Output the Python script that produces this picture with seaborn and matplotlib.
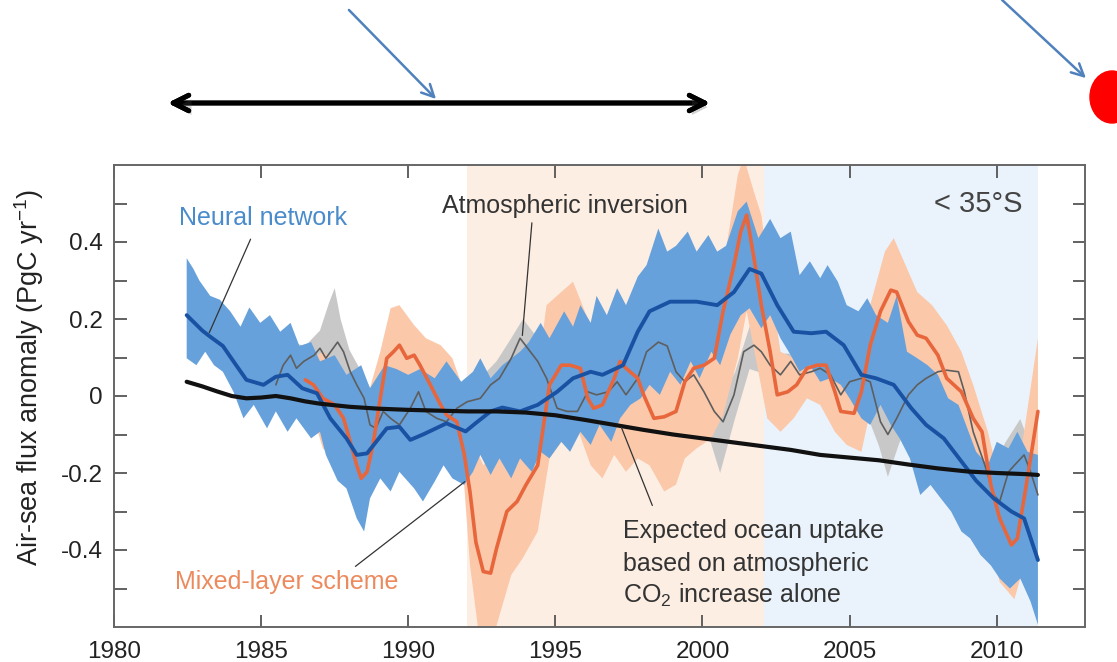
import numpy as np
import seaborn as sns
import matplotlib.pyplot as plt
import matplotlib.patheffects as pe
from matplotlib.patches import Ellipse

# neural network estimate (mean line and spread)
nn_years = [1982.47, 1983.0, 1983.27, 1983.7, 1984.06, 1984.5, 1985.08, 1985.5, 1985.9, 1986.4,
            1986.9, 1987.35, 1987.9, 1988.25, 1988.6, 1989.27, 1989.7, 1990.07, 1990.5, 1991.3,
            1991.95, 1992.3, 1992.8, 1993.2, 1993.8, 1994.4, 1995.06, 1995.6, 1996.2, 1996.6,
            1997.3, 1997.8, 1998.2, 1998.9, 1999.8, 2000.5, 2001.07, 2001.6, 2002.0, 2002.54,
            2003.1, 2003.7, 2004.2, 2004.8, 2005.4, 2005.9, 2006.5, 2007.1, 2007.6, 2008.2,
            2008.8, 2009.3, 2009.9, 2010.5, 2010.93, 2011.4]
nn_mean = [0.21, 0.17, 0.154, 0.13, 0.09, 0.042, 0.029, 0.05, 0.055, 0.02,
           0.007, -0.058, -0.11, -0.153, -0.149, -0.084, -0.08, -0.114, -0.10, -0.071,
           -0.092, -0.07, -0.04, -0.03, -0.04, -0.023, 0.011, 0.046, 0.063, 0.055,
           0.08, 0.167, 0.22, 0.245, 0.245, 0.236, 0.27, 0.33, 0.318, 0.236,
           0.167, 0.163, 0.167, 0.132, 0.055, 0.046, 0.029, -0.032, -0.075, -0.11,
           -0.17, -0.22, -0.266, -0.30, -0.318, -0.426]

nn_up_years = [1982.47, 1982.7, 1982.9, 1983.27, 1983.6, 1983.95, 1984.3, 1984.6, 1984.97, 1985.3,
               1985.65, 1986.0, 1986.3, 1986.7, 1987.0, 1987.5, 1987.9, 1988.4, 1988.7, 1989.2,
               1989.6, 1990.0, 1990.4, 1990.9, 1991.3, 1991.8, 1992.2, 1992.45, 1992.8, 1993.2,
               1993.8, 1994.1, 1994.5, 1994.8, 1995.3, 1995.6, 1995.85, 1996.2, 1996.4, 1996.75,
               1997.1, 1997.4, 1997.8, 1998.1, 1998.5, 1998.8, 1999.1, 1999.5, 1999.8, 2000.2,
               2000.5, 2000.8, 2001.2, 2001.5, 2001.9, 2002.3, 2002.65, 2003.0, 2003.3, 2003.65,
               2004.0, 2004.25, 2004.6, 2004.9, 2005.3, 2005.6, 2005.9, 2006.3, 2006.6, 2006.95,
               2007.3, 2007.65, 2008.0, 2008.35, 2008.7, 2009.0, 2009.3, 2009.7, 2010.0, 2010.4,
               2010.7, 2011.05, 2011.4]
nn_upper = [0.358, 0.33, 0.30, 0.26, 0.25, 0.22, 0.18, 0.23, 0.19, 0.21,
            0.167, 0.19, 0.13, 0.14, 0.09, 0.106, 0.055, 0.08, 0.02, 0.08,
            0.07, 0.055, 0.07, 0.046, 0.09, 0.037, 0.063, 0.098, 0.046, 0.08,
            0.115, 0.14, 0.19, 0.15, 0.22, 0.18, 0.236, 0.19, 0.26, 0.21,
            0.28, 0.236, 0.31, 0.34, 0.435, 0.375, 0.39, 0.427, 0.375, 0.418,
            0.375, 0.39, 0.48, 0.505, 0.41, 0.46, 0.41, 0.427, 0.314, 0.35,
            0.306, 0.34, 0.297, 0.236, 0.22, 0.254, 0.21, 0.19, 0.26, 0.115,
            0.098, 0.08, 0.055, -0.006, -0.023, -0.084, -0.145, -0.18, -0.119, -0.136,
            -0.093, -0.145, -0.153]

nn_lo_years = [1982.47, 1982.8, 1983.1, 1983.4, 1983.7, 1984.06, 1984.4, 1984.75, 1985.2, 1985.5,
               1985.9, 1986.2, 1986.7, 1987.0, 1987.2, 1987.6, 1987.9, 1988.25, 1988.5, 1988.7,
               1989.05, 1989.4, 1989.7, 1990.2, 1990.5, 1990.9, 1991.2, 1991.5, 1991.9, 1992.2,
               1992.45, 1992.8, 1993.1, 1993.5, 1993.8, 1994.2, 1994.5, 1994.8, 1995.2, 1995.5,
               1995.85, 1996.2, 1996.5, 1996.9, 1997.2, 1997.55, 1997.9, 1998.2, 1998.55, 1998.9,
               1999.25, 1999.6, 1999.9, 2000.3, 2000.6, 2000.95, 2001.3, 2001.6, 2002.0, 2002.3,
               2002.65, 2003.0, 2003.3, 2003.65, 2004.0, 2004.35, 2004.7, 2005.0, 2005.4, 2005.7,
               2006.05, 2006.4, 2006.7, 2007.05, 2007.4, 2007.75, 2008.1, 2008.45, 2008.8, 2009.1,
               2009.45, 2009.8, 2010.1, 2010.45, 2010.8, 2011.15, 2011.4]
nn_lower = [0.098, 0.08, 0.115, 0.08, 0.063, 0.011, -0.058, -0.023, -0.084, -0.04,
            -0.093, -0.058, -0.11, -0.093, -0.153, -0.22, -0.24, -0.318, -0.352, -0.266,
            -0.214, -0.248, -0.197, -0.24, -0.274, -0.222, -0.18, -0.214, -0.231, -0.197,
            -0.153, -0.205, -0.162, -0.214, -0.162, -0.197, -0.145, -0.162, -0.119, -0.145,
            -0.093, -0.127, -0.075, -0.119, -0.058, -0.023, -0.006, 0.029, 0.003, 0.063,
            0.029, 0.09, 0.046, 0.115, 0.08, 0.16, 0.21, 0.228, 0.176, 0.21,
            0.15, 0.106, 0.063, 0.08, 0.037, 0.046, 0.029, -0.006, -0.058, -0.075,
            -0.023, -0.075, -0.11, -0.162, -0.257, -0.231, -0.266, -0.30, -0.352, -0.37,
            -0.413, -0.44, -0.474, -0.50, -0.474, -0.534, -0.594]

# mixed-layer scheme
ml_years = [1986.5, 1986.78, 1987.1, 1987.5, 1987.8, 1988.03, 1988.25, 1988.4, 1988.6, 1988.8,
            1989.05, 1989.27, 1989.5, 1989.7, 1989.95, 1990.2, 1990.4, 1990.75, 1991.1, 1991.3,
            1991.65, 1991.9, 1992.1, 1992.3, 1992.55, 1992.8, 1993.0, 1993.35, 1993.7, 1994.0,
            1994.4, 1994.6, 1994.8, 1995.2, 1995.5, 1995.85, 1996.1, 1996.3, 1996.6, 1997.0,
            1997.2, 1997.4, 1997.8, 1998.0, 1998.35, 1998.7, 1999.1, 1999.4, 1999.7, 2000.05,
            2000.4, 2000.7, 2001.07, 2001.3, 2001.5, 2001.75, 2002.0, 2002.3, 2002.54, 2002.9,
            2003.2, 2003.55, 2003.9, 2004.2, 2004.5, 2004.7, 2005.15, 2005.4, 2005.7, 2006.05,
            2006.4, 2006.6, 2007.0, 2007.3, 2007.6, 2008.0, 2008.3, 2008.8, 2009.2, 2009.5,
            2009.8, 2010.1, 2010.5, 2010.7, 2010.93, 2011.15, 2011.4]
ml_mean = [0.042, 0.029, -0.006, -0.023, -0.058, -0.119, -0.18, -0.214, -0.197, -0.127,
           -0.006, 0.098, 0.115, 0.132, 0.098, 0.106, 0.08, 0.029, -0.023, -0.049,
           -0.067, -0.15, -0.25, -0.38, -0.456, -0.46, -0.396, -0.30, -0.274, -0.231,
           -0.18, -0.075, 0.029, 0.08, 0.08, 0.072, -0.006, -0.032, -0.023, 0.046,
           0.09, 0.072, 0.046, 0.003, -0.058, -0.054, -0.04, 0.037, 0.072, 0.08,
           0.098, 0.22, 0.34, 0.427, 0.47, 0.358, 0.236, 0.115, 0.003, 0.011,
           0.029, 0.072, 0.08, 0.08, 0.011, -0.04, -0.045, 0.011, 0.132, 0.22,
           0.275, 0.27, 0.193, 0.158, 0.15, 0.106, 0.046, 0.011, -0.058, -0.093,
           -0.231, -0.318, -0.387, -0.37, -0.266, -0.162, -0.04]

ml_up_years = [1986.55, 1986.8, 1987.1, 1987.7, 1988.1, 1988.6, 1989.05, 1989.4, 1989.7, 1990.2,
               1990.6, 1991.1, 1991.5, 1991.9, 1992.2, 1992.55, 1993.0, 1993.5, 1993.9, 1994.4,
               1994.7, 1995.2, 1995.6, 1996.0, 1996.4, 1996.9, 1997.3, 1997.8, 1998.2, 1998.7,
               1999.1, 1999.6, 2000.05, 2000.5, 2000.8, 2001.2, 2001.4, 2001.75, 2002.0, 2002.3,
               2002.65, 2003.1, 2003.55, 2004.0, 2004.5, 2004.9, 2005.4, 2005.7, 2006.2, 2006.5,
               2006.9, 2007.3, 2007.8, 2008.3, 2008.8, 2009.2, 2009.7, 2010.1, 2010.6, 2010.93,
               2011.2, 2011.4]
ml_upper = [0.06, 0.10, 0.115, 0.072, 0.037, -0.006, 0.115, 0.228, 0.236, 0.184,
            0.15, 0.132, 0.098, 0.011, -0.12, -0.18, -0.145, -0.145, -0.075, 0.063,
            0.236, 0.27, 0.297, 0.22, 0.15, 0.132, 0.184, 0.14, 0.098, 0.063,
            0.115, 0.184, 0.193, 0.236, 0.38, 0.574, 0.62, 0.53, 0.47, 0.297,
            0.115, 0.098, 0.132, 0.132, 0.08, 0.029, 0.115, 0.236, 0.375, 0.41,
            0.34, 0.27, 0.236, 0.184, 0.115, 0.029, -0.093, -0.222, -0.23, -0.093,
            0.046, 0.15]

ml_lo_years = [1986.55, 1987.1, 1987.7, 1988.1, 1988.4, 1988.8, 1989.05, 1989.4, 1989.7, 1990.2,
               1990.6, 1991.1, 1991.5, 1991.9, 1992.1, 1992.45, 1992.8, 1993.1, 1993.5, 1993.9,
               1994.4, 1994.8, 1995.3, 1995.75, 1996.2, 1996.6, 1997.0, 1997.4, 1997.8, 1998.2,
               1998.7, 1999.1, 1999.4, 1999.8, 2000.3, 2000.7, 2001.2, 2001.5, 2001.9, 2002.2,
               2002.65, 2003.1, 2003.55, 2004.0, 2004.5, 2004.9, 2005.4, 2005.7, 2006.2, 2006.5,
               2006.9, 2007.3, 2007.8, 2008.3, 2008.8, 2009.2, 2009.7, 2010.1, 2010.6, 2010.93,
               2011.2, 2011.4]
ml_lower = [0.0, -0.136, -0.18, -0.231, -0.283, -0.23, -0.136, -0.023, -0.006, -0.023,
            -0.058, -0.145, -0.18, -0.23, -0.44, -0.65, -0.65, -0.57, -0.465, -0.42,
            -0.352, -0.162, -0.11, -0.084, -0.18, -0.214, -0.153, -0.197, -0.162, -0.18,
            -0.248, -0.23, -0.162, -0.136, -0.11, -0.049, 0.098, 0.22, 0.063, -0.058,
            -0.093, -0.058, -0.006, -0.023, -0.093, -0.127, -0.145, -0.04, 0.08, 0.098,
            0.011, -0.006, -0.023, -0.093, -0.162, -0.23, -0.352, -0.483, -0.528, -0.44,
            -0.31, -0.23]

# atmospheric inversion
ai_years = [1985.5, 1985.75, 1986.0, 1986.2, 1986.45, 1986.8, 1987.0, 1987.2, 1987.6, 1987.8,
            1988.03, 1988.25, 1988.5, 1988.7, 1988.9, 1989.15, 1989.4, 1989.7, 1990.07, 1990.35,
            1990.6, 1990.97, 1991.3, 1991.65, 1992.0, 1992.45, 1992.8, 1993.1, 1993.5, 1993.8,
            1994.0, 1994.4, 1994.7, 1995.06, 1995.4, 1995.75, 1996.1, 1996.4, 1996.8, 1997.1,
            1997.4, 1997.8, 1998.1, 1998.5, 1998.8, 1999.1, 1999.4, 1999.7, 2000.05, 2000.4,
            2000.7, 2001.07, 2001.4, 2001.75, 2002.0, 2002.3, 2002.65, 2003.0, 2003.3, 2003.7,
            2004.0, 2004.35, 2004.7, 2005.0, 2005.4, 2005.7, 2006.05, 2006.3, 2006.6, 2007.0,
            2007.3, 2007.6, 2008.0, 2008.3, 2008.7, 2008.9, 2009.2, 2009.6, 2009.9, 2010.1,
            2010.4, 2010.6, 2010.93, 2011.15, 2011.4]
ai_mean = [0.029, 0.08, 0.106, 0.072, 0.09, 0.106, 0.124, 0.098, 0.14, 0.115,
           0.063, 0.029, -0.006, -0.075, -0.084, -0.04, -0.058, -0.075, -0.032, 0.011,
           -0.04, -0.058, -0.067, -0.032, -0.015, -0.006, 0.029, 0.046, 0.098, 0.15,
           0.13, 0.09, 0.046, -0.032, -0.04, -0.04, 0.011, 0.003, 0.011, 0.037,
           0.003, 0.046, 0.115, 0.14, 0.13, 0.063, 0.037, 0.055, 0.011, -0.04,
           -0.067, 0.003, 0.115, 0.132, 0.115, 0.08, 0.055, 0.09, 0.055, 0.063,
           0.072, 0.055, 0.003, 0.037, 0.046, 0.037, -0.067, -0.10, -0.058, 0.003,
           0.029, 0.046, 0.063, 0.067, 0.063, 0.011, -0.093, -0.18, -0.257, -0.274,
           -0.197, -0.18, -0.153, -0.197, -0.257]

ai_band_years = [1985.5, 1986.0, 1986.5, 1987.0, 1987.3, 1987.5, 1987.7, 1988.0, 1988.5, 1989.0,
                 1989.5, 1990.0, 1990.4, 1991.0, 1991.6, 1992.0, 1992.5, 1993.0, 1993.5, 1993.9,
                 1994.3, 1994.7, 1995.1, 1995.8, 1996.5, 1997.1, 1997.8, 1998.4, 1998.9, 1999.4,
                 2000.0, 2000.6, 2001.1, 2001.6, 2002.0, 2002.6, 2003.3, 2004.0, 2004.7, 2005.4,
                 2006.0, 2006.3, 2006.7, 2007.3, 2008.0, 2008.6, 2009.0, 2009.5, 2009.9, 2010.3,
                 2010.8, 2011.1, 2011.4]
ai_upper = [0.06, 0.14, 0.13, 0.17, 0.24, 0.28, 0.20, 0.12, 0.05, -0.02,
            0.0, 0.03, 0.06, 0.0, 0.02, 0.04, 0.05, 0.09, 0.15, 0.20,
            0.16, 0.10, 0.02, 0.01, 0.05, 0.08, 0.09, 0.19, 0.18, 0.09,
            0.06, 0.0, 0.06, 0.18, 0.17, 0.11, 0.11, 0.12, 0.06, 0.09,
            0.0, -0.04, 0.0, 0.08, 0.11, 0.11, 0.05, -0.10, -0.18, -0.12,
            -0.06, -0.12, -0.18]
ai_lower = [0.0, 0.05, 0.05, 0.07, 0.08, 0.08, 0.05, 0.01, -0.06, -0.14,
            -0.11, -0.08, -0.04, -0.11, -0.08, -0.06, -0.05, -0.01, 0.04, 0.09,
            0.04, -0.01, -0.08, -0.09, -0.05, -0.02, -0.01, 0.08, 0.07, -0.02,
            -0.05, -0.20, -0.06, 0.07, 0.06, 0.0, 0.0, 0.02, -0.05, -0.01,
            -0.13, -0.21, -0.12, -0.03, 0.01, 0.01, -0.05, -0.24, -0.45, -0.35,
            -0.24, -0.27, -0.33]

# expected uptake from atmospheric CO2 alone
co2_years = [1982.47, 1983.0, 1983.5, 1984.0, 1984.5, 1985.0, 1985.5, 1986.0, 1986.5, 1987.0,
             1988.0, 1989.0, 1990.0, 1991.0, 1992.0, 1993.0, 1994.0, 1995.0, 1996.0, 1997.0,
             1998.0, 1999.0, 2000.0, 2001.0, 2002.0, 2003.0, 2004.0, 2005.0, 2006.0, 2007.0,
             2008.0, 2009.0, 2010.0, 2011.0, 2011.4]
co2_expected = [0.037, 0.025, 0.012, 0.0, -0.006, -0.004, 0.0, -0.006, -0.014, -0.02,
                -0.028, -0.033, -0.036, -0.038, -0.04, -0.04, -0.043, -0.05, -0.062, -0.075,
                -0.088, -0.10, -0.11, -0.12, -0.13, -0.14, -0.153, -0.16, -0.167, -0.178,
                -0.188, -0.196, -0.20, -0.203, -0.205]

x_ticks = [1980, 1985, 1990, 1995, 2000, 2005, 2010]
y_ticks = [-0.4, -0.2, 0, 0.2, 0.4]
y_labels = ["-0.4", "-0.2", "0", "0.2", "0.4"]


def band(ax, xu, yu, xl, yl, color, z):
    xs = np.concatenate([xu, xl[::-1]])
    ys = np.concatenate([yu, yl[::-1]])
    ax.fill(xs, ys, color=color, lw=0, zorder=z)


sns.set_theme(style="ticks")
plt.rcParams["font.family"] = ["Liberation Sans", "DejaVu Sans"]
plt.rcParams["mathtext.fontset"] = "custom"
plt.rcParams["mathtext.rm"] = "Liberation Sans"
plt.rcParams["mathtext.it"] = "Liberation Sans:italic"

fig = plt.figure(figsize=(11.17, 6.62), dpi=100)
ax = fig.add_axes([114 / 1117, 35 / 662, 971 / 1117, 462 / 662])

ax.axvspan(1992.0, 2002.1, color="#fdeee4", lw=0, zorder=0)
ax.axvspan(2002.1, 2011.4, color="#eaf3fb", lw=0, zorder=0)

band(ax, np.array(ai_band_years), np.array(ai_upper), np.array(ai_band_years), np.array(ai_lower), "#c8c8c8", 1)
band(ax, np.array(ml_up_years), np.array(ml_upper), np.array(ml_lo_years), np.array(ml_lower), "#fbc8aa", 2)
band(ax, np.array(nn_up_years), np.array(nn_upper), np.array(nn_lo_years), np.array(nn_lower), "#67a1db", 3)

sns.lineplot(x=ai_years, y=ai_mean, ax=ax, color="#5e5e5e", lw=1.2, sort=False, estimator=None, zorder=4)
sns.lineplot(x=ml_years, y=ml_mean, ax=ax, color="#e8663c", lw=2.6, sort=False, estimator=None, zorder=5)
sns.lineplot(x=nn_years, y=nn_mean, ax=ax, color="#1a52a3", lw=2.8, sort=False, estimator=None, zorder=6)
sns.lineplot(x=co2_years, y=co2_expected, ax=ax, color="#111111", lw=3.0, sort=False, estimator=None, zorder=7)

ax.set_xlim(1980, 2013)
ax.set_ylim(-0.6, 0.6)
ax.set_xticks(x_ticks)
ax.set_xticklabels([str(t) for t in x_ticks])
ax.set_yticks(y_ticks)
ax.set_yticklabels(y_labels)
ax.set_yticks([-0.5, -0.3, -0.1, 0.1, 0.3, 0.5], minor=True)
ax.tick_params(which="both", direction="in", top=True, right=True, length=9, width=1.3,
               color="#555555", labelsize=17.5, labelcolor="#222222")
ax.tick_params(axis="x", pad=10)
ax.tick_params(axis="y", pad=8)
for s in ax.spines.values():
    s.set_color("#666666")
    s.set_linewidth(1.4)

ax.set_xlabel("")
ax.set_ylabel("Air-sea flux anomaly (PgC yr$^{-1}$)", fontsize=19.5, color="#222222")
ax.yaxis.set_label_coords(-0.070, 0.54)

txt = dict(fontsize=18, va="baseline", zorder=8)
ax.text(1982.2, 0.444, "Neural network", color="#4a8bcb", ha="left", **txt)
ax.text(1991.16, 0.475, "Atmospheric inversion", color="#333333", ha="left", **txt)
ax.text(2010.88, 0.478, "< 35°S", color="#444444", ha="right", fontsize=21, va="baseline", zorder=8)
ax.text(1982.07, -0.50, "Mixed-layer scheme", color="#ec8a5e", ha="left", **txt)
ax.text(1997.31, -0.369, "Expected ocean uptake", color="#333333", ha="left", **txt)
ax.text(1997.31, -0.455, "based on atmospheric", color="#333333", ha="left", **txt)
ax.text(1997.31, -0.537, "CO$_2$ increase alone", color="#333333", ha="left", **txt)

leader = dict(arrowstyle="-", color="#333333", lw=0.9)
ax.annotate("", xy=(1983.2, 0.158), xytext=(1984.68, 0.414), arrowprops=leader, zorder=8)
ax.annotate("", xy=(1993.87, 0.150), xytext=(1994.21, 0.457), arrowprops=leader, zorder=8)
ax.annotate("", xy=(1992.0, -0.218), xytext=(1988.13, -0.447), arrowprops=leader, zorder=8)
ax.annotate("", xy=(1997.21, -0.075), xytext=(1998.33, -0.291), arrowprops=leader, zorder=8)

# markup drawn above the chart
W, H = 1117.0, 662.0
dbl = ax.annotate("", xy=(713 / W, 1 - 103 / H), xytext=(165 / W, 1 - 103 / H),
                  xycoords="figure fraction", textcoords="figure fraction",
                  arrowprops=dict(arrowstyle="<->", color="black", lw=3.5, mutation_scale=28),
                  annotation_clip=False)
dbl.arrow_patch.set_path_effects([pe.withSimplePatchShadow(offset=(2, -3), alpha=0.25), pe.Normal()])

blue_arrow = dict(arrowstyle="->", color="#4f81bd", lw=1.8, mutation_scale=22)
ax.annotate("", xy=(438 / W, 1 - 101 / H), xytext=(347 / W, 1 - 8 / H),
            xycoords="figure fraction", textcoords="figure fraction",
            arrowprops=blue_arrow, annotation_clip=False)
ax.annotate("", xy=(1088 / W, 1 - 80 / H), xytext=(1000 / W, 1 + 2 / H),
            xycoords="figure fraction", textcoords="figure fraction",
            arrowprops=blue_arrow, annotation_clip=False)

fig.add_artist(Ellipse((1112 / W, 1 - 97 / H), 44 / W, 52 / H, color="#ff0000",
                       transform=fig.transFigure, zorder=10))

fig.savefig("out.png", dpi=100)
